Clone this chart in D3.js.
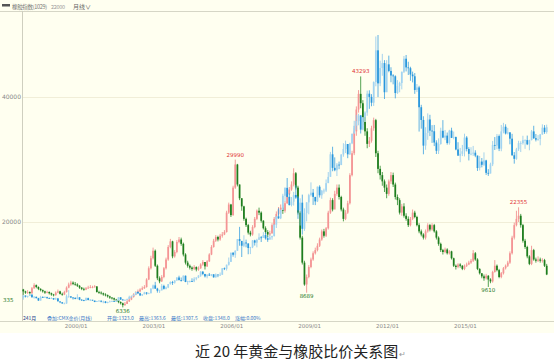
<!DOCTYPE html>
<html>
<head>
<meta charset="utf-8">
<script src="https://cdn.jsdelivr.net/npm/d3@7/dist/d3.min.js"></script>
<style>
  body { margin: 0; background: #fff; }
  svg { display: block; font-family: "Noto Sans CJK SC", "Noto Sans", sans-serif; }
</style>
</head>
<body>
<div id="viz"></div>
<script>
// monthly bars, 1998/01 .. 2018/03
var startYear = 1998, barCount = 243;
var xTicks = ["2000/01", "2003/01", "2006/01", "2009/01", "2012/01", "2015/01"];
var yTicks = [20000, 40000];

// rubber index (main chart)
var rubberOpen0 = 9200;
var rubberClose = [
  8900, 8700, 8800, 8600, 9400, 9900, 9600, 9300, 9100, 8900, 8700, 8800,
  8600, 8400, 8300, 8700, 8900, 8500, 8400, 8800, 9500, 10000, 10300, 10100,
  10000, 9800, 9500, 9300, 9200, 9400, 9500, 9600, 9600, 9700, 8800, 8700,
  8600, 8400, 8300, 8100, 7900, 7800, 7600, 7500, 7200, 7000, 6700, 6900,
  7300, 7600, 8000, 8400, 8700, 8900, 9200, 9400, 9600, 10800, 12600, 14200,
  15400, 13000, 11000, 10500, 11200, 12600, 14000, 16000, 16900, 14500, 15200, 16800,
  17200, 16500, 14800, 13500, 13000, 12700, 12500, 12800, 12400, 12600, 13200, 13600,
  12900, 13700, 14800, 16000, 17000, 17600, 17200, 17800, 18000, 18400, 21500, 22800,
  21100, 25500, 29200, 26000, 23800, 22500, 20500, 19500, 18300, 18000, 19200, 20500,
  21800, 21500, 20200, 19000, 18400, 18000, 18200, 19500, 20500, 21300, 22000, 22300,
  21800, 23000, 24500, 25200, 26000, 27800, 25500, 21500, 17500, 13500, 10000, 11200,
  12800, 14000, 15000, 15500, 16200, 17200, 18500, 17800, 19000, 21500, 23500, 22000,
  24500, 25500, 24000, 22000, 20500, 21500, 23000, 27500, 31000, 34500, 38000, 40500,
  39000, 36000, 34500, 32500, 33000, 35000, 36300, 31000, 28500, 27500, 26500, 25500,
  24500, 26500, 27500, 26000, 24000, 23500, 21500, 22500, 21000, 20500, 19500, 20500,
  21500, 20800, 19500, 18500, 18000, 17500, 18500, 19500, 18800, 19500, 18500, 17500,
  16500, 15500, 15200, 15600, 15000, 15300, 14200, 13000, 12800, 13200, 13000, 12500,
  13000, 13200, 13500, 13800, 15000, 14000, 12500, 11800, 11300, 11000, 11400, 10800,
  10500, 12000, 13000, 12300, 11200, 11800, 12600, 13000, 13500, 15000, 17500, 19500,
  20500, 21000, 19500, 17000, 16000, 14500, 13300, 15500, 14000, 13800, 14000, 13800,
  13900, 13000, 11600
];
var rubberHigh = [
  9300, 9000, 9100, 8900, 9600, 10200, 10000, 9700, 9400, 9200, 9000, 9000,
  8900, 8700, 8500, 8900, 9200, 9000, 8700, 9000, 9700, 10300, 10600, 10500,
  10400, 10200, 9900, 9600, 9500, 9600, 9800, 9900, 9800, 9900, 9700, 9000,
  8900, 8700, 8600, 8400, 8200, 8000, 7900, 7700, 7500, 7300, 7100, 7200,
  7500, 7800, 8200, 8600, 8900, 9200, 9400, 9700, 9900, 11000, 12900, 14600,
  15900, 15600, 13200, 11300, 11500, 12800, 14300, 16300, 17300, 17000, 15500, 17100,
  17600, 17500, 16700, 15000, 13800, 13200, 12900, 13100, 12900, 12900, 13400, 13900,
  13300, 13900, 15000, 16300, 17300, 17900, 17800, 18100, 18400, 18700, 21800, 23100,
  22900, 25800, 29990, 29300, 26000, 23800, 22600, 20700, 19700, 18600, 19500, 20800,
  22000, 22300, 21700, 20300, 19300, 18700, 18600, 19800, 20800, 21700, 22400, 22800,
  22700, 23300, 24800, 25600, 26500, 28600, 28000, 25800, 21800, 17800, 13800, 11600,
  13100, 14300, 15300, 15900, 16600, 17500, 18800, 18900, 19200, 21800, 23900, 23800,
  25000, 26000, 26000, 24200, 22300, 21900, 23400, 27800, 31400, 35000, 38500, 41100,
  43293, 39500, 36800, 35000, 33600, 35400, 36700, 36500, 31400, 29000, 28000, 26800,
  26000, 26800, 28000, 27900, 26300, 24400, 23800, 22900, 23000, 21400, 20900, 20800,
  22000, 21800, 21000, 19800, 18800, 18200, 18800, 19800, 19700, 19800, 19700, 18700,
  17700, 16700, 15700, 15900, 15800, 15500, 15400, 14300, 13200, 13400, 13400, 13100,
  13200, 13500, 13800, 14100, 15500, 15200, 14200, 12600, 11800, 11600, 11700, 11500,
  11000, 12200, 13900, 13200, 12500, 12000, 12800, 13200, 13800, 15300, 17800, 19900,
  21800, 22355, 21300, 19700, 17300, 16200, 14700, 16200, 15700, 14300, 14500, 14300,
  14200, 14100, 13300
];
var rubberLow = [
  8335, 8500, 8500, 8400, 8500, 9300, 9400, 9100, 8900, 8700, 8500, 8600,
  8400, 8200, 8100, 8200, 8600, 8400, 8200, 8300, 8700, 9400, 9800, 9900,
  9800, 9600, 9300, 9100, 9000, 9100, 9300, 9400, 9400, 9500, 8700, 8500,
  8400, 8200, 8100, 7900, 7700, 7600, 7400, 7300, 7000, 6800, 6336, 6600,
  6900, 7200, 7500, 7900, 8300, 8600, 8800, 9100, 9300, 9500, 10700, 12400,
  14000, 12800, 10700, 10200, 10400, 11000, 12400, 13800, 15800, 14200, 14300, 15000,
  16600, 16200, 14500, 13200, 12700, 12400, 12200, 12300, 12100, 12200, 12500, 13000,
  12400, 12800, 13600, 14700, 15900, 16800, 16900, 17000, 17500, 17900, 18300, 21300,
  20800, 21000, 25300, 25700, 23500, 21800, 20200, 19200, 18000, 17700, 17800, 19000,
  20300, 21100, 19900, 18800, 18100, 17600, 17800, 18100, 19300, 20300, 21100, 21500,
  21300, 21500, 22900, 24300, 25000, 25700, 25200, 21200, 17200, 13200, 9800, 8689,
  11000, 12600, 13800, 14800, 15300, 16000, 17000, 17500, 17600, 18800, 21300, 21700,
  23800, 24200, 23600, 21700, 20100, 20300, 21300, 22800, 27300, 30700, 33800, 37500,
  38200, 35500, 33800, 31800, 32000, 32700, 34600, 30400, 27800, 26800, 25800, 24800,
  23800, 24200, 26100, 25600, 23600, 22700, 21200, 21000, 20700, 20200, 19200, 19300,
  20300, 20600, 19300, 18200, 17700, 17200, 17200, 18300, 18500, 18600, 18300, 17200,
  16200, 15200, 14800, 15000, 14800, 14800, 14000, 12800, 12400, 12600, 12700, 12300,
  12300, 12800, 13100, 13300, 13600, 13800, 12300, 11600, 11000, 10600, 10800, 9610,
  10200, 10300, 11900, 12100, 11000, 11000, 11600, 12400, 12800, 13300, 14800, 17200,
  19300, 20000, 19100, 16700, 15700, 14200, 13100, 13100, 13800, 13500, 13600, 13500,
  13500, 12800, 11500
];

// CMX gold (overlay)
var goldOpen0 = 290;
var goldClose = [
  304, 297, 301, 310, 294, 296, 288, 273, 294, 292, 294, 288,
  287, 288, 280, 286, 268, 262, 255, 255, 299, 299, 292, 290,
  283, 293, 278, 276, 273, 288, 276, 278, 273, 264, 270, 272,
  266, 267, 258, 264, 267, 270, 266, 273, 293, 279, 275, 277,
  282, 296, 301, 309, 326, 318, 305, 312, 323, 316, 318, 347,
  367, 347, 334, 336, 364, 346, 354, 375, 388, 384, 398, 416,
  400, 397, 427, 388, 394, 394, 391, 408, 416, 428, 452, 438,
  423, 434, 428, 436, 417, 435, 429, 433, 473, 470, 495, 513,
  569, 557, 582, 654, 643, 613, 633, 627, 599, 604, 646, 632,
  650, 665, 662, 679, 659, 650, 665, 673, 743, 795, 783, 834,
  923, 972, 916, 865, 886, 928, 912, 833, 880, 718, 815, 882,
  927, 942, 916, 888, 979, 926, 954, 955, 1001, 1040, 1180, 1096,
  1081, 1116, 1113, 1179, 1213, 1244, 1180, 1248, 1308, 1357, 1386, 1421,
  1333, 1410, 1439, 1556, 1536, 1500, 1628, 1825, 1620, 1715, 1746, 1565,
  1738, 1697, 1669, 1664, 1560, 1604, 1622, 1692, 1773, 1719, 1714, 1675,
  1664, 1579, 1595, 1472, 1393, 1234, 1313, 1396, 1327, 1323, 1253, 1202,
  1244, 1326, 1284, 1296, 1250, 1327, 1282, 1287, 1210, 1171, 1183, 1199,
  1284, 1213, 1183, 1184, 1190, 1172, 1095, 1135, 1115, 1142, 1065, 1061,
  1118, 1238, 1234, 1293, 1215, 1322, 1351, 1309, 1316, 1277, 1174, 1152,
  1211, 1249, 1249, 1268, 1268, 1242, 1269, 1322, 1280, 1271, 1275, 1303,
  1345, 1318, 1348
];
var goldHigh = [
  307, 305, 303, 316, 311, 301, 298, 290, 302, 300, 300, 297,
  292, 293, 289, 291, 289, 267, 264, 260, 310, 338, 300, 294,
  292, 312, 294, 282, 278, 292, 291, 282, 277, 272, 271, 275,
  273, 272, 270, 266, 273, 273, 269, 278, 294, 293, 283, 280,
  285, 303, 303, 311, 327, 330, 322, 313, 327, 325, 322, 349,
  372, 389, 352, 340, 375, 371, 360, 376, 392, 395, 399, 417,
  427, 416, 429, 428, 396, 397, 411, 418, 417, 430, 456, 456,
  438, 436, 444, 437, 435, 441, 429, 447, 474, 478, 496, 540,
  571, 574, 584, 654, 730, 630, 678, 651, 628, 606, 648, 650,
  656, 690, 673, 697, 694, 671, 682, 675, 746, 796, 845, 837,
  935, 975, 1033, 937, 915, 947, 988, 921, 907, 930, 845, 882,
  935, 1006, 965, 914, 980, 988, 959, 967, 1024, 1070, 1195, 1227,
  1161, 1126, 1135, 1180, 1249, 1265, 1243, 1252, 1307, 1388, 1425, 1431,
  1424, 1411, 1447, 1575, 1577, 1553, 1632, 1911, 1920, 1761, 1803, 1764,
  1764, 1792, 1720, 1677, 1670, 1640, 1630, 1693, 1790, 1796, 1754, 1723,
  1693, 1684, 1616, 1605, 1487, 1416, 1348, 1434, 1425, 1361, 1362, 1267,
  1279, 1345, 1392, 1331, 1315, 1332, 1345, 1321, 1290, 1255, 1220, 1238,
  1308, 1293, 1224, 1224, 1232, 1205, 1172, 1170, 1157, 1192, 1146, 1088,
  1128, 1263, 1287, 1306, 1303, 1362, 1375, 1366, 1344, 1317, 1307, 1194,
  1220, 1264, 1261, 1295, 1273, 1296, 1270, 1331, 1357, 1306, 1299, 1306,
  1366, 1361, 1364
];
var goldLow = [
  278, 292, 291, 301, 290, 285, 286, 271, 273, 290, 290, 284,
  284, 283, 277, 278, 268, 257, 253, 252, 253, 291, 288, 279,
  281, 281, 275, 272, 269, 272, 275, 270, 271, 263, 264, 268,
  262, 256, 256, 256, 264, 266, 264, 265, 271, 277, 274, 272,
  275, 285, 288, 300, 307, 313, 301, 301, 312, 309, 315, 318,
  343, 345, 322, 320, 336, 341, 342, 350, 372, 370, 378, 395,
  398, 391, 395, 387, 371, 385, 388, 387, 399, 412, 420, 430,
  416, 411, 426, 424, 415, 415, 418, 427, 433, 462, 459, 490,
  512, 545, 538, 581, 613, 543, 604, 603, 560, 561, 598, 614,
  603, 649, 636, 662, 651, 637, 653, 650, 670, 723, 780, 778,
  836, 885, 914, 863, 857, 862, 904, 780, 738, 682, 705, 764,
  808, 918, 866, 865, 884, 912, 904, 936, 946, 1002, 1043, 1075,
  1075, 1045, 1088, 1115, 1165, 1188, 1156, 1176, 1243, 1314, 1331, 1360,
  1309, 1329, 1381, 1419, 1462, 1478, 1480, 1602, 1535, 1603, 1667, 1523,
  1566, 1689, 1627, 1614, 1527, 1555, 1565, 1583, 1684, 1694, 1672, 1636,
  1626, 1555, 1566, 1321, 1339, 1180, 1208, 1270, 1293, 1251, 1231, 1182,
  1182, 1240, 1280, 1268, 1240, 1240, 1281, 1273, 1205, 1183, 1131, 1169,
  1167, 1198, 1142, 1174, 1170, 1162, 1077, 1080, 1099, 1107, 1052, 1046,
  1061, 1107, 1207, 1211, 1200, 1199, 1310, 1303, 1303, 1242, 1171, 1122,
  1146, 1201, 1194, 1240, 1214, 1237, 1205, 1266, 1275, 1260, 1264, 1236,
  1302, 1307, 1308
];

// marked extremes on the rubber chart
var peakLabels = [
  { month: "2006/03", value: 29990, kind: "high" },
  { month: "2011/01", value: 43293, kind: "high" },
  { month: "2017/02", value: 22355, kind: "high" },
  { month: "2001/11", value: 6336, kind: "low" },
  { month: "2008/12", value: 8689, kind: "low" },
  { month: "2015/12", value: 9610, kind: "low" }
];

var headerText = ["橡胶指数(1029)", "22000", "月线∨"];
var infoText = ["241月", "叠加:CMX金价(月线)", "开盘:1323.0", "最高:1363.6", "最低:1307.5", "收盘:1348.0", "涨幅:0.00%"];
var caption = "近 20 年黄金与橡胶比价关系图";

var width = 554, height = 364;

var months = d3.range(barCount).map(function(i) {
  var y = startYear + Math.floor(i / 12), m = i % 12 + 1;
  return y + "/" + (m < 10 ? "0" + m : m);
});

function toBars(open0, close, high, low) {
  return close.map(function(c, i) {
    return {
      month: months[i],
      open: i === 0 ? open0 : close[i - 1],
      close: c, high: high[i], low: low[i]
    };
  });
}
var rubber = toBars(rubberOpen0, rubberClose, rubberHigh, rubberLow);
var gold = toBars(goldOpen0, goldClose, goldHigh, goldLow);

var x = d3.scaleBand().domain(months).range([22, 548]).padding(0.2);
var y = d3.scaleLinear().domain([0, 40000]).range([347, 97]);
var yGold = d3.scaleLinear().domain([295, 1920]).range([297, 35]);

var svg = d3.select("#viz").append("svg").attr("width", width).attr("height", height);

svg.append("rect").attr("width", width).attr("height", 333).attr("fill", "#fffff0");

// header
svg.append("rect").attr("x", 2).attr("y", 4).attr("width", 8).attr("height", 2.5).attr("fill", "#555");
svg.append("text").attr("x", 12).attr("y", 8.5).attr("font-size", 5.5).attr("fill", "#777")
  .attr("textLength", 35).text(headerText[0]);
svg.append("text").attr("x", 51).attr("y", 8.5).attr("font-size", 5.5).attr("fill", "#999")
  .attr("textLength", 14).text(headerText[1]);
svg.append("text").attr("x", 73).attr("y", 8.5).attr("font-size", 6).attr("fill", "#666").text(headerText[2]);
svg.append("line").attr("x1", 0).attr("x2", width).attr("y1", 11.5).attr("y2", 11.5)
  .attr("stroke", "#d6d6c6");

// grid + y axis
svg.selectAll(".grid").data(yTicks).enter().append("line")
  .attr("x1", 22).attr("x2", width)
  .attr("y1", function(d) { return Math.round(y(d)) + 0.5; })
  .attr("y2", function(d) { return Math.round(y(d)) + 0.5; })
  .attr("stroke", "#f1eed8");

var yAxis = svg.append("g").attr("transform", "translate(22,0)")
  .call(d3.axisLeft(y).tickValues(yTicks).tickSize(0).tickPadding(1).tickFormat(d3.format("d")));
yAxis.select(".domain").remove();
yAxis.selectAll("text").attr("font-size", 6).attr("fill", "#888").attr("font-family", "DejaVu Sans, sans-serif");

svg.append("line").attr("x1", 22.5).attr("x2", 22.5).attr("y1", 11).attr("y2", 321)
  .attr("stroke", "#cfcfbf");

// candles
function drawCandles(data, yScale, upFill, upStroke, downFill, downStroke) {
  var g = svg.append("g");
  var bw = x.bandwidth();
  var c = g.selectAll("g").data(data).enter().append("g");
  c.append("line")
    .attr("x1", function(d) { return x(d.month) + bw / 2; })
    .attr("x2", function(d) { return x(d.month) + bw / 2; })
    .attr("y1", function(d) { return yScale(d.high); })
    .attr("y2", function(d) { return yScale(d.low); })
    .attr("stroke", function(d) { return d.close >= d.open ? upStroke : downStroke; })
    .attr("stroke-width", 0.8);
  c.append("rect")
    .attr("x", function(d) { return x(d.month); })
    .attr("width", bw)
    .attr("y", function(d) { return yScale(Math.max(d.open, d.close)); })
    .attr("height", function(d) { return Math.max(0.8, Math.abs(yScale(d.open) - yScale(d.close))); })
    .attr("fill", function(d) { return d.close >= d.open ? upFill : downFill; });
}
drawCandles(rubber, y, "#f49494", "#f08585", "#1e7d1e", "#2a8a2a");
drawCandles(gold, yGold, "#a2d4f1", "#8fc8ec", "#2896dc", "#3a9fe0");

// extreme labels
svg.selectAll(".peak").data(peakLabels).enter().append("text")
  .attr("x", function(d) { return x(d.month) + x.bandwidth() / 2; })
  .attr("y", function(d) { return d.kind === "high" ? y(d.value) - 3 : y(d.value) + 5.5; })
  .attr("text-anchor", "middle").attr("font-size", 5.5)
  .attr("font-family", "DejaVu Sans, sans-serif")
  .attr("fill", function(d) { return d.kind === "high" ? "#e03030" : "#2a7a2a"; })
  .text(function(d) { return d.value; });
svg.append("text").attr("x", 3).attr("y", y(8335) + 7).attr("font-size", 5.5)
  .attr("font-family", "DejaVu Sans, sans-serif").attr("fill", "#2a7a2a").text("335");

// info row
var info = svg.append("g").attr("font-size", 5);
var infoX = [23, 47, 107, 139, 171, 203, 235];
infoText.forEach(function(t, i) {
  info.append("text").attr("x", infoX[i]).attr("y", 319.6)
    .attr("fill", i === 0 ? "#223a8a" : "#3b78c8").text(t);
});

// x axis
svg.append("line").attr("x1", 0).attr("x2", width).attr("y1", 321.5).attr("y2", 321.5).attr("stroke", "#d6d6c6");
var xAxis = svg.append("g").attr("transform", "translate(" + (x.bandwidth() / 2) + ",321)")
  .call(d3.axisBottom(x).tickValues(xTicks).tickSize(0).tickPadding(3));
xAxis.select(".domain").remove();
xAxis.selectAll("text").attr("font-size", 5.5).attr("fill", "#888").attr("font-family", "DejaVu Sans, sans-serif");

// caption
var cap = svg.append("text").attr("x", 195).attr("y", 357).attr("font-size", 15).attr("fill", "#222").text(caption);
cap.append("tspan").attr("font-size", 8).attr("fill", "#999").attr("dx", 1).text("↵");
</script>
</body>
</html>
